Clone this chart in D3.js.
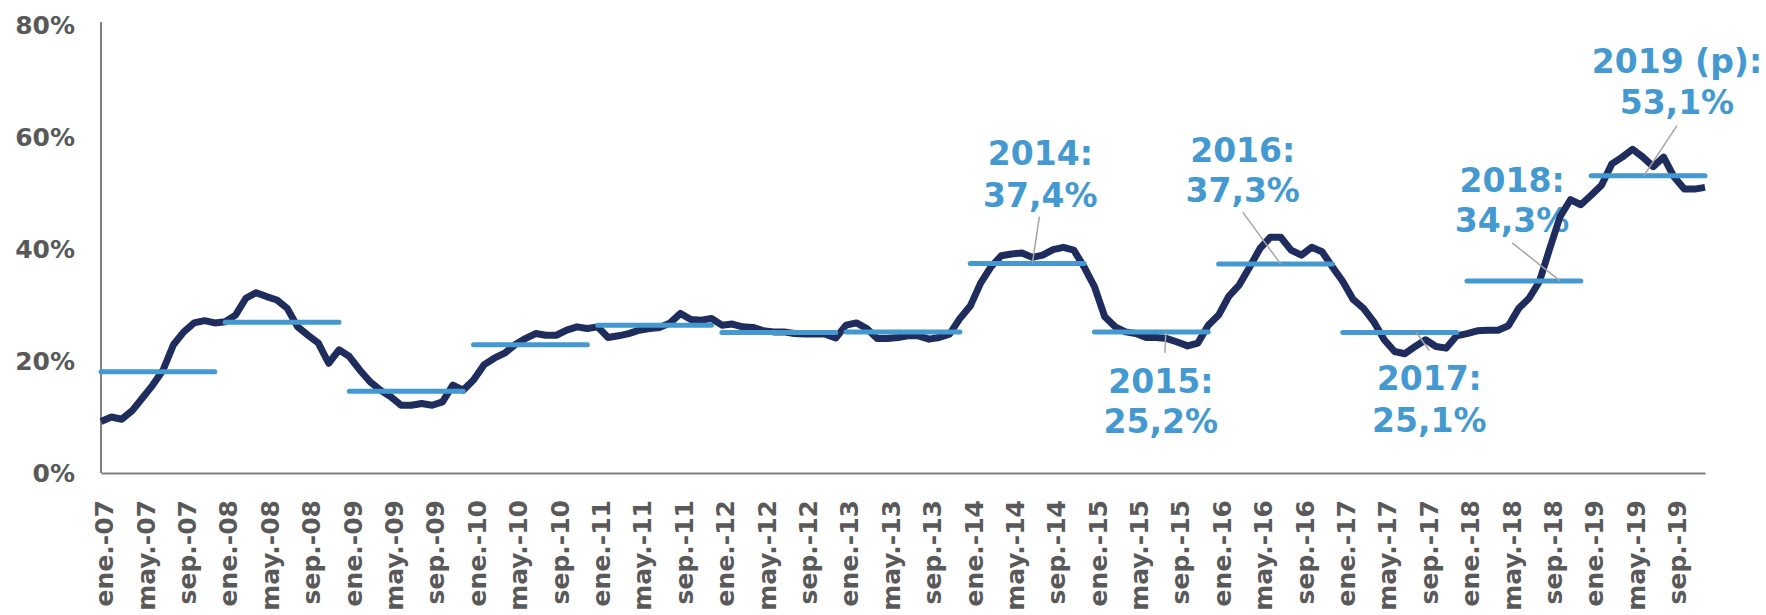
<!DOCTYPE html>
<html>
<head>
<meta charset="utf-8">
<script src="https://cdn.jsdelivr.net/npm/d3@7"></script>
<style>
  html, body { margin: 0; padding: 0; background: #fff; }
  svg { display: block; }
  .axis text { font-family: "DejaVu Sans", sans-serif; font-weight: bold; fill: #595959; }
  .axis path { stroke: #7f7f7f; stroke-width: 2; }
  .annot text { font-family: "DejaVu Sans", sans-serif; font-weight: bold; fill: #4399d0; }
</style>
</head>
<body>
<svg id="chart"></svg>
<script>
// serie mensual ene-07 .. dic-19 (%)
const values2007 = [9.2, 10.0, 9.6, 11.1, 13.4, 15.7, 18.4, 22.9, 25.2, 26.8, 27.2, 26.8];
const values2008 = [27.0, 28.2, 31.2, 32.2, 31.5, 30.9, 29.4, 26.1, 24.6, 23.2, 19.6, 22.0];
const values2009 = [20.8, 18.4, 16.3, 14.8, 13.6, 12.1, 12.1, 12.4, 12.1, 12.7, 15.7, 14.8];
const values2010 = [16.6, 19.3, 20.5, 21.4, 22.9, 24.0, 24.9, 24.6, 24.6, 25.5, 26.1, 25.8];
const values2011 = [26.1, 24.2, 24.5, 24.9, 25.5, 25.8, 26.0, 26.8, 28.5, 27.4, 27.3, 27.6];
const values2012 = [26.4, 26.6, 26.1, 26.0, 25.4, 25.2, 25.2, 24.9, 24.8, 24.8, 24.8, 24.1];
const values2013 = [26.4, 26.8, 25.8, 24.0, 24.0, 24.2, 24.5, 24.5, 23.9, 24.2, 24.8, 27.6];
const values2014 = [29.8, 33.9, 36.8, 38.8, 39.1, 39.3, 38.5, 38.9, 39.9, 40.3, 39.8, 36.8];
const values2015 = [33.3, 27.9, 26.1, 25.2, 24.9, 24.2, 24.2, 24.0, 23.4, 22.7, 23.2, 26.4];
const values2016 = [28.2, 31.6, 33.6, 36.8, 40.1, 42.1, 42.1, 39.8, 38.9, 40.3, 39.5, 36.8];
const values2017 = [34.2, 31.0, 29.4, 27.0, 23.8, 21.7, 21.3, 22.6, 23.8, 22.6, 22.3, 24.5];
const values2018 = [24.9, 25.4, 25.5, 25.5, 26.3, 29.4, 31.2, 34.2, 40.1, 45.8, 48.8, 47.9];
const values2019 = [49.6, 51.4, 55.2, 56.4, 57.8, 56.4, 54.7, 56.4, 52.9, 50.7, 50.7, 51.0];

const years = [2007, 2008, 2009, 2010, 2011, 2012, 2013, 2014, 2015, 2016, 2017, 2018, 2019];
const yearAverages = [18.1, 26.9, 14.6, 22.9, 26.4, 25.1, 25.2, 37.4, 25.2, 37.3, 25.1, 34.3, 53.1];

const tickMonths = ['ene.', 'may.', 'sep.'];
const yTicks = [0, 20, 40, 60, 80];

// etiquetas de promedio anual
const annotYears = [2014, 2015, 2016, 2017, 2018, 2019];
const annotTitles = ['2014:', '2015:', '2016:', '2017:', '2018:', '2019 (p):'];
const annotValues = ['37,4%', '25,2%', '37,3%', '25,1%', '34,3%', '53,1%'];
const annotMonth = [90.0, 102.9, 114.0, 127.1, 141.0, 149.1];

const monthly = [values2007, values2008, values2009, values2010, values2011, values2012, values2013,
  values2014, values2015, values2016, values2017, values2018, values2019].flat();
const series = monthly.map((v, i) => ({ i, v }));

const width = 1766;
const height = 615;

// colocación de los textos respecto al punto de anclaje (px)
const annotLayout = [
  { dx: 8, l1: -99, l2: -57, lx: 7, ly: -47 },
  { dx: -5, l1: 61, l2: 101, lx: -1, ly: 21 },
  { dx: -38, l1: -102, l2: -62, lx: -38, ly: -52 },
  { dx: 13, l1: 58, l2: 100, lx: 13, ly: 18 },
  { dx: -48, l1: -89, l2: -49, lx: -48, ly: -38 },
  { dx: 33, l1: -103, l2: -62, lx: 33, ly: -50 }
];

const svg = d3.select('#chart').attr('width', width).attr('height', height);

const x = d3.scaleLinear().domain([0, monthly.length - 1]).range([101, 1705]);
const y = d3.scaleLinear().domain([0, 80]).range([473, 25]);

// eje Y
const yAxis = svg.append('g')
  .attr('class', 'axis')
  .attr('transform', 'translate(101,0)')
  .call(d3.axisLeft(y).tickValues(yTicks).tickSize(0).tickSizeOuter(0).tickPadding(26)
    .tickFormat((d) => d + '%'));
yAxis.selectAll('text').style('font-size', '25px');
yAxis.select('.domain').attr('d', `M0,${y(0)}V22`);

// eje X, un rótulo cada cuatro meses
const tickIdx = d3.range(0, monthly.length, 4);
const xAxis = svg.append('g')
  .attr('class', 'axis')
  .attr('transform', `translate(0,${y(0)})`)
  .call(d3.axisBottom(x).tickValues(tickIdx).tickSize(0).tickSizeOuter(0)
    .tickFormat((i) => `${tickMonths[(i % 12) / 4]}-${String(years[Math.floor(i / 12)]).slice(2)}`));
xAxis.selectAll('text')
  .style('font-size', '25px')
  .attr('text-anchor', 'end')
  .attr('transform', 'translate(3,27) rotate(-90)')
  .attr('x', 0)
  .attr('y', 0)
  .attr('dy', '0.35em');

// textos
const annot = svg.append('g').attr('class', 'annot');
annotYears.forEach((yr, k) => {
  const ax = x(annotMonth[k]);
  const ay = y(yearAverages[years.indexOf(yr)]);
  const L = annotLayout[k];
  annot.append('text').attr('x', ax + L.dx).attr('y', ay + L.l1)
    .attr('text-anchor', 'middle').style('font-size', '33px').text(annotTitles[k]);
  annot.append('text').attr('x', ax + L.dx).attr('y', ay + L.l2)
    .attr('text-anchor', 'middle').style('font-size', '33px').text(annotValues[k]);
});

// serie mensual
const line = d3.line().x((d) => x(d.i)).y((d) => y(d.v));
svg.append('path')
  .datum(series)
  .attr('fill', 'none')
  .attr('stroke', '#1f2d5e')
  .attr('stroke-width', 7)
  .attr('stroke-linejoin', 'round')
  .attr('d', line);

// promedios anuales
svg.append('g')
  .selectAll('line')
  .data(years.map((yr, k) => ({ k, v: yearAverages[k] })))
  .join('line')
  .attr('x1', (d) => x(d.k * 12))
  .attr('x2', (d) => x(d.k * 12 + 11))
  .attr('y1', (d) => y(d.v))
  .attr('y2', (d) => y(d.v))
  .attr('stroke', '#4399d0')
  .attr('stroke-width', 5)
  .attr('stroke-linecap', 'round');

// líneas guía
annotYears.forEach((yr, k) => {
  const ax = x(annotMonth[k]);
  const ay = y(yearAverages[years.indexOf(yr)]);
  const L = annotLayout[k];
  svg.append('line')
    .attr('x1', ax).attr('y1', ay)
    .attr('x2', ax + L.lx).attr('y2', ay + L.ly)
    .attr('stroke', '#a5a5a5')
    .attr('stroke-width', 1.5);
});
</script>
</body>
</html>
